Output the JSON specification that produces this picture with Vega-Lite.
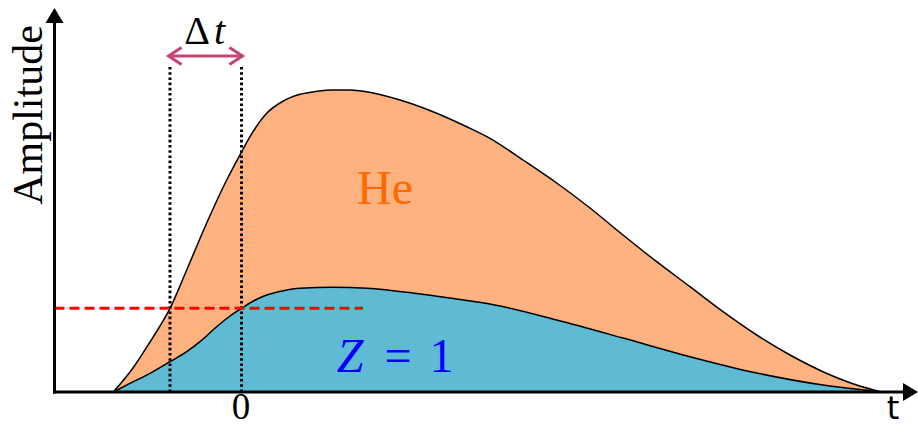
{
  "$schema": "https://vega.github.io/schema/vega-lite/v6.json",
  "width": 918,
  "height": 427,
  "padding": 0,
  "autosize": {"type": "none"},
  "background": "white",
  "config": {"view": {"stroke": null}},
  "datasets": {
    "he": [
      {"t": -1.277, "amp": 0},
      {"t": -1.08, "amp": 0.24},
      {"t": -0.91, "amp": 0.5},
      {"t": -0.81, "amp": 0.66},
      {"t": -0.71, "amp": 0.837},
      {"t": -0.543, "amp": 1.22},
      {"t": -0.343, "amp": 1.69},
      {"t": -0.143, "amp": 2.12},
      {"t": 0.007, "amp": 2.403},
      {"t": 0.09, "amp": 2.553},
      {"t": 0.257, "amp": 2.787},
      {"t": 0.423, "amp": 2.91},
      {"t": 0.59, "amp": 2.977},
      {"t": 0.757, "amp": 3.007},
      {"t": 0.923, "amp": 3.02},
      {"t": 1.09, "amp": 3.02},
      {"t": 1.257, "amp": 3.003},
      {"t": 1.59, "amp": 2.92},
      {"t": 1.92, "amp": 2.803},
      {"t": 2.257, "amp": 2.653},
      {"t": 2.49, "amp": 2.537},
      {"t": 2.82, "amp": 2.32},
      {"t": 3.157, "amp": 2.09},
      {"t": 3.49, "amp": 1.84},
      {"t": 3.82, "amp": 1.57},
      {"t": 4.157, "amp": 1.303},
      {"t": 4.49, "amp": 1.053},
      {"t": 4.82, "amp": 0.803},
      {"t": 5.157, "amp": 0.57},
      {"t": 5.49, "amp": 0.37},
      {"t": 5.82, "amp": 0.203},
      {"t": 6.157, "amp": 0.07},
      {"t": 6.407, "amp": 0}
    ],
    "z1": [
      {"t": -1.277, "amp": 0},
      {"t": -1.077, "amp": 0.103},
      {"t": -0.91, "amp": 0.187},
      {"t": -0.71, "amp": 0.303},
      {"t": -0.543, "amp": 0.403},
      {"t": -0.41, "amp": 0.503},
      {"t": -0.243, "amp": 0.653},
      {"t": -0.11, "amp": 0.76},
      {"t": 0.007, "amp": 0.837},
      {"t": 0.123, "amp": 0.91},
      {"t": 0.257, "amp": 0.97},
      {"t": 0.423, "amp": 1.013},
      {"t": 0.59, "amp": 1.037},
      {"t": 0.923, "amp": 1.047},
      {"t": 1.257, "amp": 1.037},
      {"t": 1.757, "amp": 0.985},
      {"t": 2.257, "amp": 0.915},
      {"t": 2.59, "amp": 0.86},
      {"t": 3.157, "amp": 0.72},
      {"t": 3.82, "amp": 0.54},
      {"t": 4.49, "amp": 0.353},
      {"t": 5.157, "amp": 0.19},
      {"t": 5.82, "amp": 0.07},
      {"t": 6.32, "amp": 0.01},
      {"t": 6.407, "amp": 0}
    ]
  },
  "encoding": {
    "x": {"field": "t", "type": "quantitative", "scale": {"domain": [-2.41, 6.77], "nice": false, "zero": false}, "axis": null},
    "y": {"field": "amp", "type": "quantitative", "scale": {"domain": [-0.35, 3.92], "nice": false, "zero": false}, "axis": null}
  },
  "layer": [
    {
      "data": {"name": "he"},
      "mark": {"type": "area", "interpolate": "monotone", "fill": "#fdb27f", "stroke": "black", "strokeWidth": 1.5},
      "encoding": {"y2": {"datum": 0}}
    },
    {
      "data": {"name": "z1"},
      "mark": {"type": "area", "interpolate": "monotone", "fill": "#5fbad3", "stroke": "black", "strokeWidth": 1.5},
      "encoding": {"y2": {"datum": 0}}
    },
    {
      "data": {"values": [{"t": -0.71, "amp": 0, "amp2": 3.27}, {"t": 0.005, "amp": 0, "amp2": 3.27}]},
      "mark": {"type": "rule", "color": "black", "strokeWidth": 3, "strokeDash": [2.6, 2.6]},
      "encoding": {"y2": {"field": "amp2"}}
    },
    {
      "data": {"values": [{"t": -1.865, "t2": 1.22, "amp": 0.837}]},
      "mark": {"type": "rule", "color": "#ff0000", "strokeWidth": 3, "strokeDash": [10, 5]},
      "encoding": {"x2": {"field": "t2"}}
    },
    {
      "data": {"values": [
        {"t": -1.88, "t2": 6.64, "amp": 0, "amp2": 0},
        {"t": -1.865, "t2": -1.865, "amp": -0.015, "amp2": 3.72}
      ]},
      "mark": {"type": "rule", "color": "black", "strokeWidth": 3},
      "encoding": {"x2": {"field": "t2"}, "y2": {"field": "amp2"}}
    },
    {
      "data": {"values": [{"t": 6.695, "amp": 0}]},
      "mark": {"type": "point", "shape": "M-0.83,-1L0.83,0L-0.83,1Z", "size": 324, "filled": true, "color": "black", "opacity": 1}
    },
    {
      "data": {"values": [{"t": -1.865, "amp": 3.765}]},
      "mark": {"type": "point", "shape": "M-1,0.83L0,-0.83L1,0.83Z", "size": 324, "filled": true, "color": "black", "opacity": 1}
    },
    {
      "data": {"values": [{"t": -0.725, "t2": 0.015, "amp": 3.36}]},
      "mark": {"type": "rule", "color": "#c74278", "strokeWidth": 3},
      "encoding": {"x2": {"field": "t2"}}
    },
    {
      "data": {"values": [{"t": -0.725, "amp": 3.36}]},
      "mark": {"type": "point", "shape": "M1.45,-0.95L0,0L1.45,0.95", "size": 324, "filled": false, "stroke": "#c74278", "strokeWidth": 3, "opacity": 1}
    },
    {
      "data": {"values": [{"t": 0.015, "amp": 3.36}]},
      "mark": {"type": "point", "shape": "M-1.45,-0.95L0,0L-1.45,0.95", "size": 324, "filled": false, "stroke": "#c74278", "strokeWidth": 3, "opacity": 1}
    },
    {
      "data": {"values": [{"t": -1.995, "amp": 2.77, "label": "Amplitude"}]},
      "mark": {"type": "text", "font": "Liberation Serif", "fontSize": 42, "angle": 270, "align": "center", "baseline": "alphabetic", "color": "black"},
      "encoding": {"text": {"field": "label"}}
    },
    {
      "data": {"values": [{"t": 0, "amp": -0.27, "label": "0"}]},
      "mark": {"type": "text", "font": "Liberation Serif", "fontSize": 37, "align": "center", "baseline": "alphabetic", "color": "black"},
      "encoding": {"text": {"field": "label"}}
    },
    {
      "data": {"values": [{"t": -0.44, "amp": 3.477, "label": "Δ"}]},
      "mark": {"type": "text", "font": "Liberation Serif", "fontSize": 40, "align": "center", "baseline": "alphabetic", "color": "black"},
      "encoding": {"text": {"field": "label"}}
    },
    {
      "data": {"values": [{"t": -0.215, "amp": 3.477, "label": "t"}]},
      "mark": {"type": "text", "font": "Liberation Serif", "fontSize": 40, "fontStyle": "italic", "align": "center", "baseline": "alphabetic", "color": "black"},
      "encoding": {"text": {"field": "label"}}
    },
    {
      "data": {"values": [{"t": 6.52, "amp": -0.265, "label": "t"}]},
      "mark": {"type": "text", "font": "DejaVu Sans", "fontSize": 32, "align": "center", "baseline": "alphabetic", "color": "black"},
      "encoding": {"text": {"field": "label"}}
    },
    {
      "data": {"values": [{"t": 1.44, "amp": 1.877, "label": "He"}]},
      "mark": {"type": "text", "font": "Liberation Serif", "fontSize": 48, "align": "center", "baseline": "alphabetic", "color": "#ff6a00"},
      "encoding": {"text": {"field": "label"}}
    },
    {
      "data": {"values": [{"t": 1.09, "amp": 0.203, "label": "Z"}]},
      "mark": {"type": "text", "font": "Liberation Serif", "fontSize": 48, "fontStyle": "italic", "align": "center", "baseline": "alphabetic", "color": "#0000ff"},
      "encoding": {"text": {"field": "label"}}
    },
    {
      "data": {"values": [{"t": 1.57, "amp": 0.203, "label": "="}, {"t": 2.005, "amp": 0.203, "label": "1"}]},
      "mark": {"type": "text", "font": "Liberation Serif", "fontSize": 48, "align": "center", "baseline": "alphabetic", "color": "#0000ff"},
      "encoding": {"text": {"field": "label"}}
    }
  ]
}
